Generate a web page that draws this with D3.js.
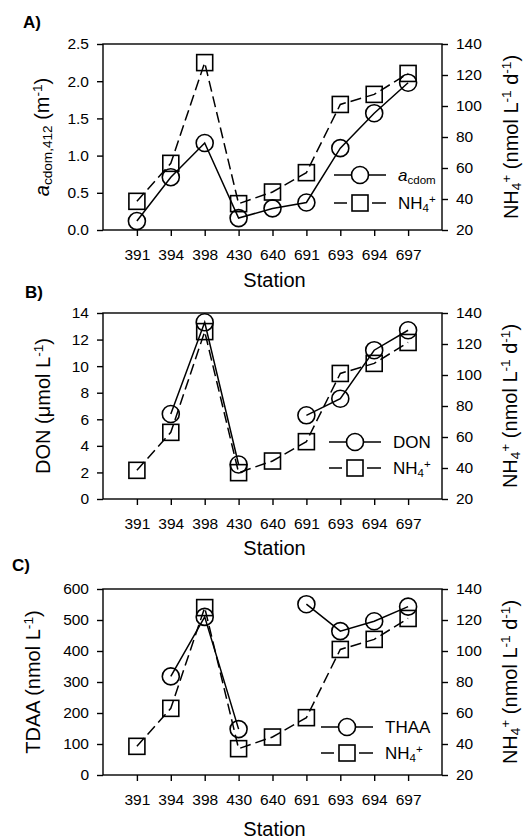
<!DOCTYPE html>
<html>
<head>
<meta charset="utf-8">
<script src="https://cdn.jsdelivr.net/npm/d3@7"></script>
<style>
  body { margin: 0; background: #fff; }
  svg { font-family: "Liberation Sans", Arial, sans-serif; }
</style>
</head>
<body>
<svg width="524" height="840"></svg>
<script>
// data
var stations = ["391", "394", "398", "430", "640", "691", "693", "694", "697"];
var nh4 = [38.5, 63, 128, 37, 44.5, 57, 101, 107.5, 121];
var acdom = [0.12, 0.71, 1.17, 0.16, 0.29, 0.37, 1.10, 1.57, 1.98];
var don = [null, 6.4, 13.3, 2.6, null, 6.3, 7.55, 11.2, 12.7];
var thaa = [null, 318, 510, 148, null, 551, 464, 496, 543];

var leftTicksA = [0, 0.5, 1.0, 1.5, 2.0, 2.5];
var leftTicksB = [0, 2, 4, 6, 8, 10, 12, 14];
var leftTicksC = [0, 100, 200, 300, 400, 500, 600];
var rightTicks = [20, 40, 60, 80, 100, 120, 140];

var svg = d3.select("svg");
var boxL = 103, boxR = 442, boxH = 186;

var x = d3.scalePoint()
  .domain(stations)
  .range([boxL, boxR])
  .padding(1);

var yRight = d3.scaleLinear().domain([20, 140]);

// text with sub/superscripts: parts = [[text, "n"|"sub"|"sup"|"it", dx]]
function richText(sel, parts, size) {
  parts.forEach(function(p) {
    var t = sel.append("tspan").text(p[0]);
    if (p[1] == "sub") t.attr("font-size", size * 0.68).attr("baseline-shift", "-22%");
    if (p[1] == "sup") t.attr("font-size", size * 0.68).attr("baseline-shift", "52%");
    if (p[1] == "it") t.attr("font-style", "italic");
    if (p[2]) t.attr("dx", p[2]);
  });
}

function drawPanel(cfg) {
  var top = cfg.top, bottom = top + boxH;
  var g = svg.append("g");

  var yLeft = d3.scaleLinear().domain(cfg.leftDomain).range([bottom, top]);
  var yR = yRight.copy().range([bottom, top]);

  // frame
  g.append("rect")
    .attr("x", boxL).attr("y", top)
    .attr("width", boxR - boxL).attr("height", boxH)
    .attr("fill", "none").attr("stroke", "#000").attr("stroke-width", 1.4);

  var ax = g.append("g").attr("transform", "translate(" + boxL + ",0)")
    .call(d3.axisLeft(yLeft).tickValues(cfg.leftTicks).tickFormat(cfg.fmt)
      .tickSize(6).tickPadding(8));
  var axR = g.append("g").attr("transform", "translate(" + boxR + ",0)")
    .call(d3.axisRight(yR).tickValues(rightTicks).tickSize(6).tickPadding(8));
  var axB = g.append("g").attr("transform", "translate(0," + bottom + ")")
    .call(d3.axisBottom(x).tickSize(6).tickPadding(13));

  [ax, axR, axB].forEach(function(a) {
    a.select(".domain").remove();
    a.selectAll("line").attr("stroke-width", 1.4);
    a.selectAll("text").attr("font-size", 15.5).attr("font-family", "Liberation Sans, Arial, sans-serif").attr("fill", "#000");
  });

  // NH4 series (dashed, squares)
  var lineR = d3.line()
    .defined(function(d) { return d != null; })
    .x(function(d, i) { return x(stations[i]); })
    .y(function(d) { return yR(d); });
  var lineL = d3.line()
    .defined(function(d) { return d != null; })
    .x(function(d, i) { return x(stations[i]); })
    .y(function(d) { return yLeft(d); });

  g.append("path").datum(nh4)
    .attr("d", lineR).attr("fill", "none").attr("stroke", "#000")
    .attr("stroke-width", 1.5).attr("stroke-dasharray", "11,5");
  g.append("path").datum(cfg.values)
    .attr("d", lineL).attr("fill", "none").attr("stroke", "#000")
    .attr("stroke-width", 1.5);

  g.selectAll(".sq").data(nh4).enter().append("rect")
    .attr("x", function(d, i) { return x(stations[i]) - 8; })
    .attr("y", function(d) { return yR(d) - 8; })
    .attr("width", 16).attr("height", 16)
    .attr("fill", "none").attr("stroke", "#000").attr("stroke-width", 1.6);

  g.selectAll(".ci").data(cfg.values.map(function(v, i) { return {v: v, s: stations[i]}; })
      .filter(function(d) { return d.v != null; }))
    .enter().append("circle")
    .attr("cx", function(d) { return x(d.s); })
    .attr("cy", function(d) { return yLeft(d.v); })
    .attr("r", 8.5)
    .attr("fill", "none").attr("stroke", "#000").attr("stroke-width", 1.6);

  // panel letter
  g.append("text").attr("x", cfg.labX).attr("y", cfg.labY)
    .attr("font-size", 17).attr("font-weight", "bold").text(cfg.label);

  // axis titles
  g.append("text")
    .attr("x", (boxL + boxR) / 2 + 2).attr("y", bottom + cfg.stationDy)
    .attr("text-anchor", "middle").attr("font-size", 20).text("Station");

  var lt = g.append("text")
    .attr("transform", "translate(" + cfg.leftTitleX + "," + (top + boxH / 2) + ") rotate(-90)")
    .attr("text-anchor", "middle").attr("font-size", 20).attr("dy", "0.35em");
  richText(lt, cfg.leftTitle, 20);

  var rt = g.append("text")
    .attr("transform", "translate(" + cfg.rightTitleX + "," + (top + boxH / 2) + ") rotate(-90)")
    .attr("text-anchor", "middle").attr("font-size", 20).attr("dy", "0.35em");
  richText(rt, [["NH", "n"], ["4", "sub"], ["+", "sup"], [" (nmol L", "n"], ["-1", "sup"],
    [" d", "n"], ["-1", "sup"], [")", "n"]], 20);

  // legend
  var lx = cfg.legX, ly = cfg.legY;
  g.append("line").attr("x1", lx - 26).attr("x2", lx + 26).attr("y1", ly).attr("y2", ly)
    .attr("stroke", "#000").attr("stroke-width", 1.5);
  g.append("circle").attr("cx", lx).attr("cy", ly).attr("r", 8.5)
    .attr("fill", "#fff").attr("stroke", "#000").attr("stroke-width", 1.6);
  var l1 = g.append("text").attr("x", lx + 38).attr("y", ly).attr("dy", "0.35em").attr("font-size", 17);
  richText(l1, cfg.legText, 17);

  var ly2 = ly + cfg.legGap;
  g.append("line").attr("x1", lx - 26).attr("x2", lx - 13).attr("y1", ly2).attr("y2", ly2)
    .attr("stroke", "#000").attr("stroke-width", 1.5);
  g.append("line").attr("x1", lx + 12).attr("x2", lx + 26).attr("y1", ly2).attr("y2", ly2)
    .attr("stroke", "#000").attr("stroke-width", 1.5);
  g.append("line").attr("x1", lx - 8).attr("x2", lx + 8).attr("y1", ly2).attr("y2", ly2)
    .attr("stroke", "#000").attr("stroke-width", 1.5);
  g.append("rect").attr("x", lx - 8).attr("y", ly2 - 8).attr("width", 16).attr("height", 16)
    .attr("fill", "#fff").attr("stroke", "#000").attr("stroke-width", 1.6);
  var l2 = g.append("text").attr("x", lx + 38).attr("y", ly2).attr("dy", "0.35em").attr("font-size", 17);
  richText(l2, [["NH", "n"], ["4", "sub"], ["+", "sup"]], 17);
}

drawPanel({
  top: 44, label: "A)", labX: 23, labY: 28,
  leftDomain: [0, 2.5], leftTicks: leftTicksA, fmt: d3.format(".1f"),
  values: acdom, stationDy: 57,
  leftTitleX: 42, rightTitleX: 511,
  leftTitle: [["a", "it"], ["cdom,412", "sub"], [" (m", "n"], ["-1", "sup"], [")", "n"]],
  legX: 360, legY: 175, legGap: 28,
  legText: [["a", "it"], ["cdom", "sub"]]
});

drawPanel({
  top: 313, label: "B)", labX: 25, labY: 298,
  leftDomain: [0, 14], leftTicks: leftTicksB, fmt: d3.format("d"),
  values: don, stationDy: 56,
  leftTitleX: 43, rightTitleX: 510,
  leftTitle: [["DON (", "n"], ["\u03bcmol L", "n"], ["-1", "sup"], [")", "n"]],
  legX: 355, legY: 442, legGap: 26,
  legText: [["DON", "n"]]
});

drawPanel({
  top: 589, label: "C)", labX: 12, labY: 571,
  leftDomain: [0, 600], leftTicks: leftTicksC, fmt: d3.format("d"),
  values: thaa, stationDy: 61,
  leftTitleX: 33, rightTitleX: 510,
  leftTitle: [["TDAA (nmol L", "n"], ["-1", "sup"], [")", "n"]],
  legX: 347, legY: 727, legGap: 26,
  legText: [["THAA", "n"]]
});
</script>
</body>
</html>
